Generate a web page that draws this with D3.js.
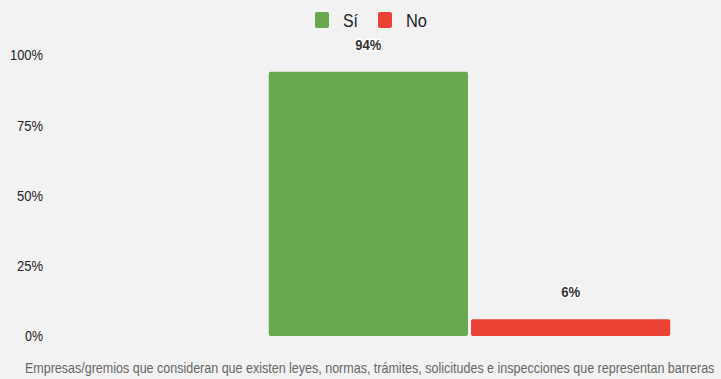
<!DOCTYPE html>
<html>
<head>
<meta charset="utf-8">
<script src="https://cdn.jsdelivr.net/npm/d3@7"></script>
<style>
  html, body { margin: 0; padding: 0; background: #f2f2f2; overflow: hidden; }
  svg { display: block; font-family: "Liberation Sans", Arial, sans-serif; }
</style>
</head>
<body>
<script>
const width = 721;
const height = 379;
const margin = { top: 55, right: -150, bottom: 43, left: 68 };

const categories = ["Empresas/gremios que consideran que existen leyes, normas, trámites, solicitudes e inspecciones que representan barreras"];
const series = ["Sí", "No"];
const values = [0.94, 0.06];
const yTicks = [0, 0.25, 0.5, 0.75, 1];
const colors = ["#6aa84f", "#ea4335"];

const svg = d3.select("body")
  .append("svg")
  .attr("width", width)
  .attr("height", height);

const x0 = d3.scaleBand()
  .domain(categories)
  .range([margin.left, width - margin.right])
  .padding(1 / 3);

const x1 = d3.scaleBand()
  .domain(series)
  .range([0, x0.bandwidth()])
  .paddingInner(0.015);

const y = d3.scaleLinear()
  .domain([0, 1])
  .range([height - margin.bottom, margin.top]);

// y axis: labels only
const yAxis = d3.axisLeft(y)
  .tickValues(yTicks)
  .tickFormat(d3.format(".0%"))
  .tickSize(0)
  .tickPadding(0);

const yAxisGroup = svg.append("g")
  .attr("transform", "translate(43, 0)")
  .call(yAxis)
  .attr("font-family", null)
  .attr("font-size", null);
yAxisGroup.select(".domain").remove();
// narrow look like the original
yAxisGroup.selectAll("text")
  .attr("font-size", 15)
  .attr("fill", "#222")
  .attr("textLength", d => d === 1 ? 33 : d === 0 ? 18 : 26)
  .attr("lengthAdjust", "spacingAndGlyphs");

const group = svg.append("g")
  .attr("transform", `translate(${x0(categories[0])}, 0)`);

group.selectAll("rect")
  .data(series)
  .join("rect")
  .attr("x", d => x1(d))
  .attr("y", (d, i) => y(values[i]))
  .attr("width", x1.bandwidth())
  .attr("height", (d, i) => y(0) - y(values[i]))
  .attr("rx", 2)
  .attr("fill", (d, i) => colors[i]);

group.selectAll("text.val")
  .data(series)
  .join("text")
  .attr("class", "val")
  .attr("x", d => x1(d) + x1.bandwidth() / 2 - (values[series.indexOf(d)] >= 0.1 ? 13 : 9.5))
  .attr("y", (d, i) => y(values[i]) - 22)
  .attr("font-size", 15)
  .attr("font-weight", "bold")
  .attr("fill", "#333")
  .attr("stroke", "#fff")
  .attr("stroke-width", 3)
  .attr("paint-order", "stroke")
  .attr("textLength", (d, i) => values[i] >= 0.1 ? 26 : 19)
  .attr("lengthAdjust", "spacingAndGlyphs")
  .text((d, i) => d3.format(".0%")(values[i]));

// category label, squeezed horizontally to fit like the narrow original font
const title = svg.append("text")
  .attr("font-size", 14)
  .attr("fill", "#666")
  .text(categories[0]);
const natural = title.node().getComputedTextLength();
title.attr("transform", `translate(25, ${height - 6}) scale(${690 / natural}, 1)`);

// legend
const legend = svg.append("g")
  .attr("transform", "translate(315, 12)");

const legendX = [0, 63];
const item = legend.selectAll("g")
  .data(series)
  .join("g")
  .attr("transform", (d, i) => `translate(${legendX[i]}, 0)`);

item.append("rect")
  .attr("width", 14)
  .attr("height", 16)
  .attr("rx", 2)
  .attr("fill", (d, i) => colors[i]);

item.append("text")
  .attr("x", 28)
  .attr("y", 15)
  .attr("font-size", 18)
  .attr("fill", "#222")
  .attr("textLength", (d, i) => i === 0 ? 15 : 21)
  .attr("lengthAdjust", "spacingAndGlyphs")
  .text(d => d);
</script>
</body>
</html>
